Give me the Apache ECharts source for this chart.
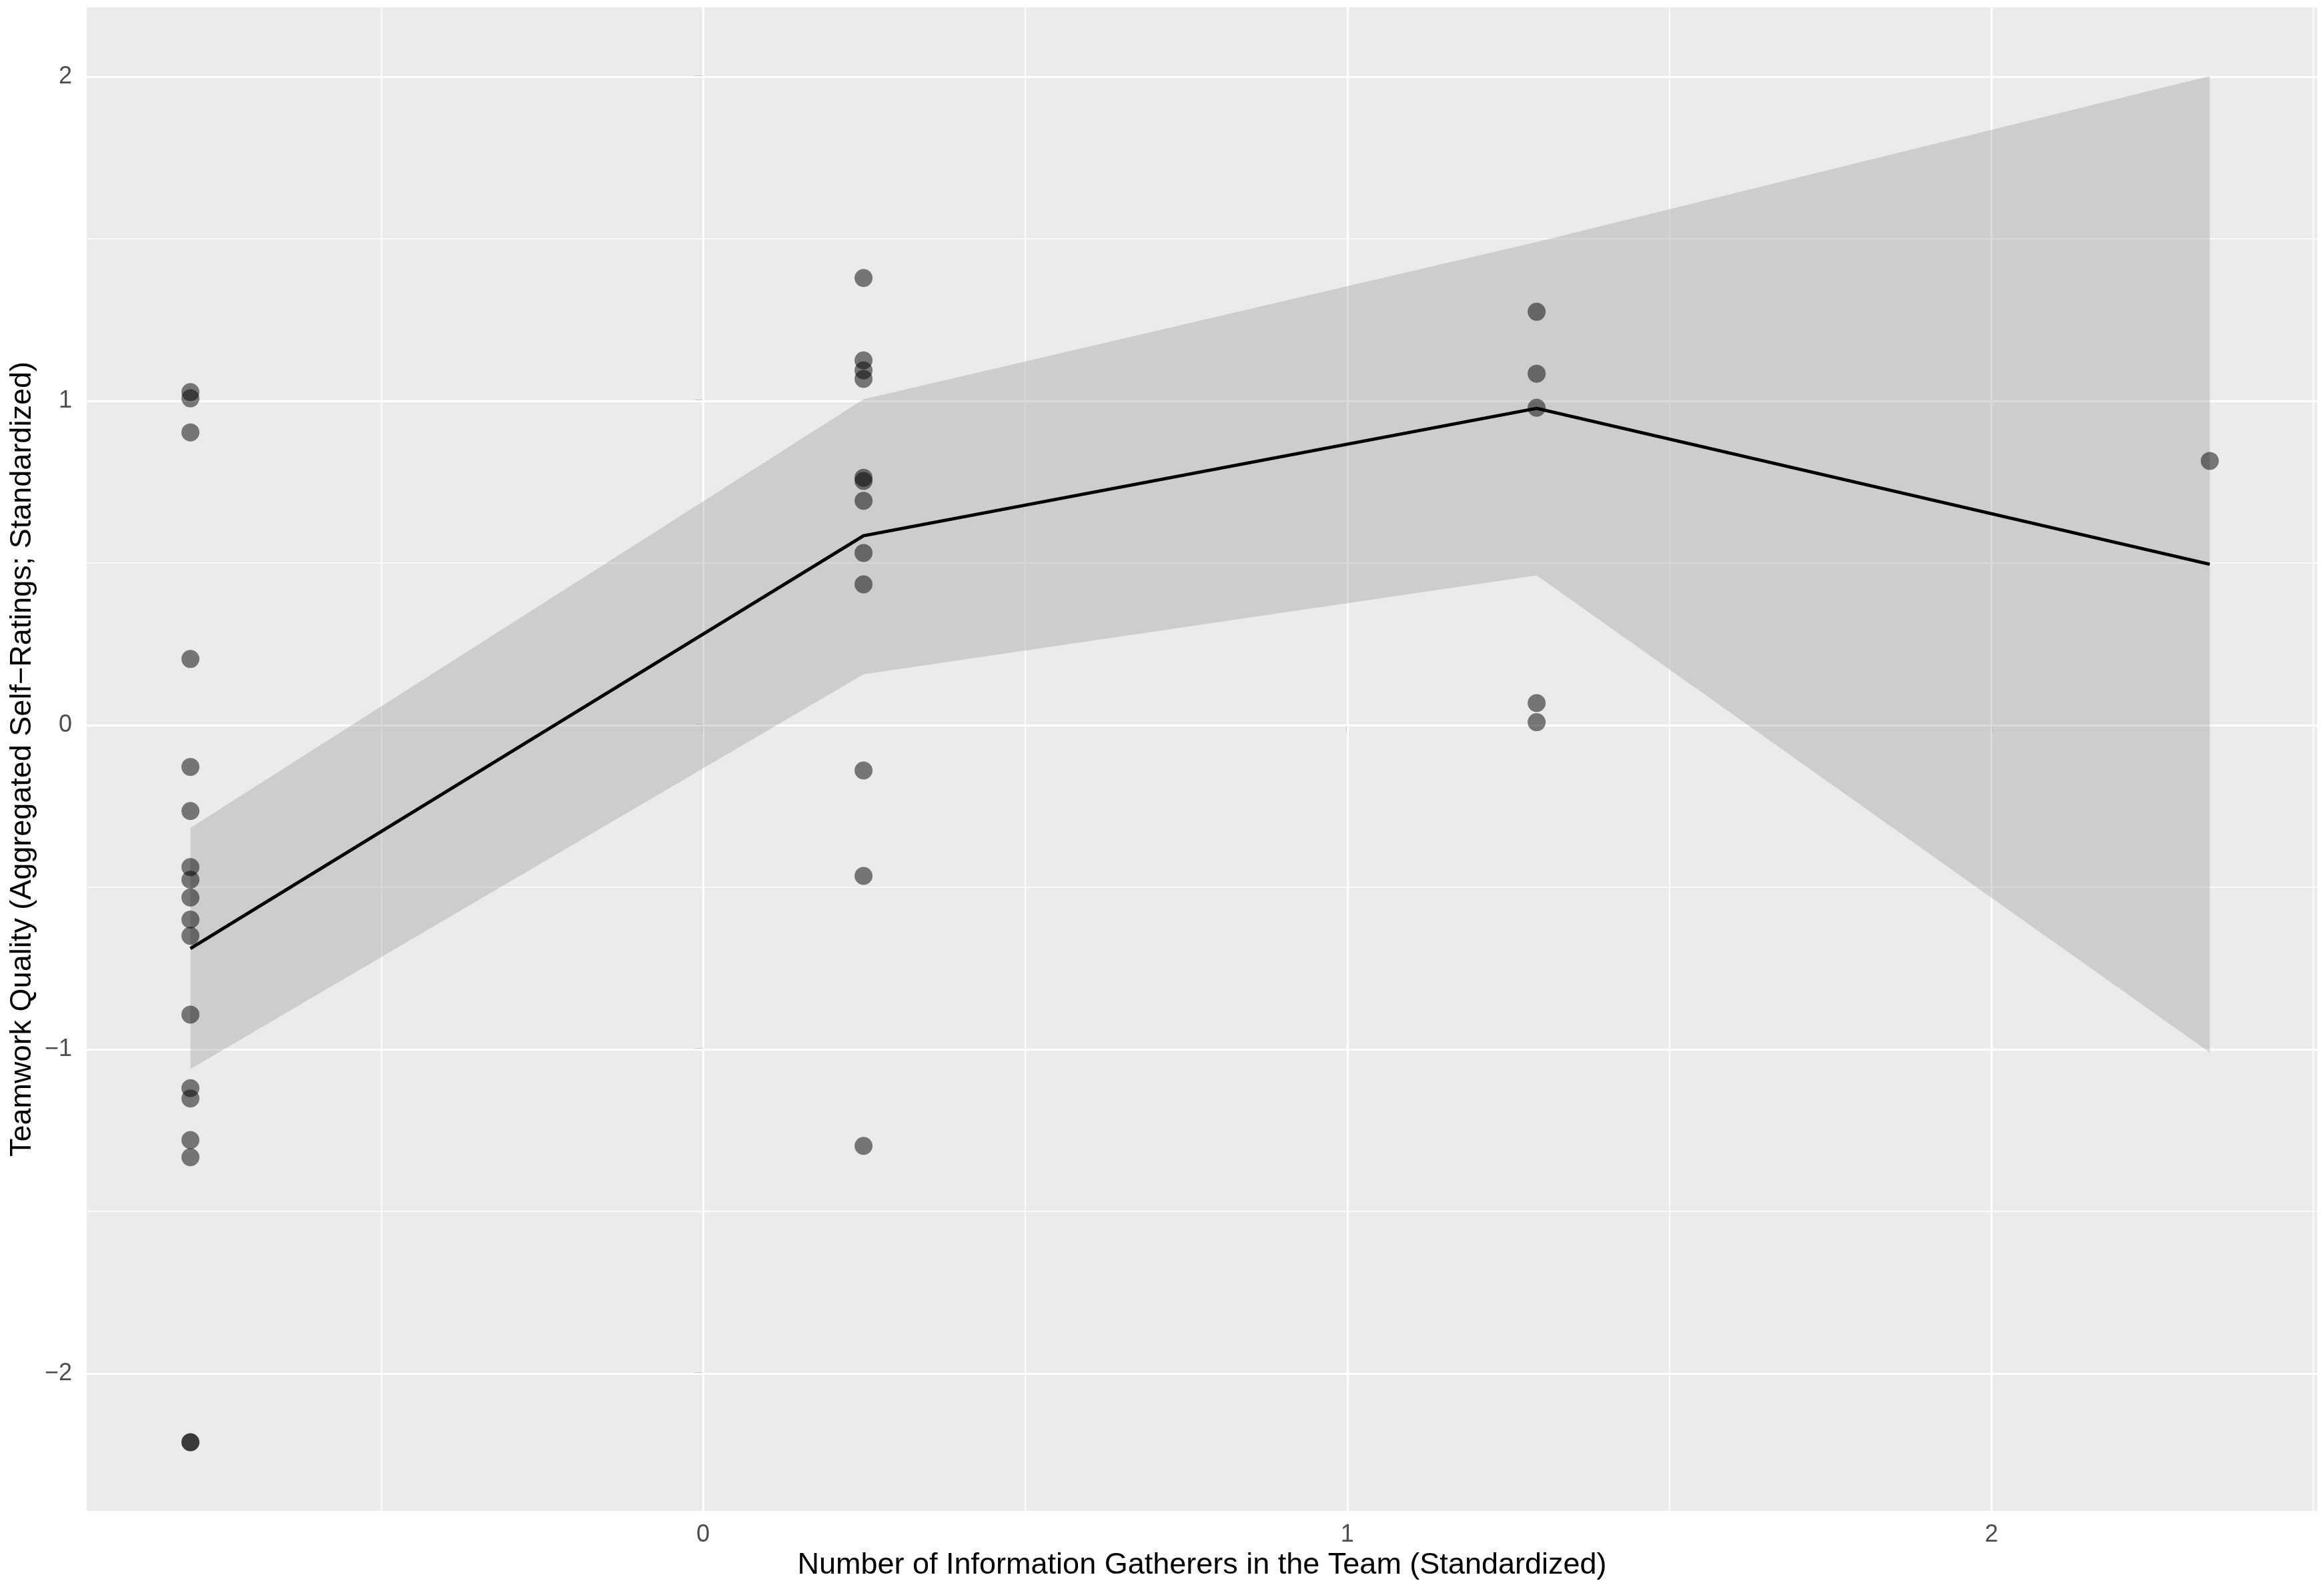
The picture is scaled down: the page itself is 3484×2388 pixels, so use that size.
<!DOCTYPE html>
<html>
<head>
<meta charset="utf-8">
<script src="https://cdn.jsdelivr.net/npm/echarts@6/dist/echarts.min.js"></script>
<style>
  html, body { margin: 0; padding: 0; background: #ffffff; }
  #chart { width: 3484px; height: 2388px; }
</style>
</head>
<body>
<div id="chart"></div>
<script>
(function() {
  // group positions on x (standardized number of information gatherers)
  var groupX = [-0.796, 0.249, 1.294, 2.339];

  // teamwork quality per group
  var group1Y = [1.027, 1.008, 0.903, 0.204, -0.129, -0.265, -0.438, -0.477, -0.532, -0.600, -0.650, -0.893, -1.120, -1.152, -1.280, -1.333, -2.212, -2.212];
  var group2Y = [1.379, 1.125, 1.094, 1.068, 0.763, 0.753, 0.692, 0.531, 0.434, -0.140, -0.465, -1.298];
  var group3Y = [1.275, 1.084, 0.979, 0.068, 0.009];
  var group4Y = [0.815];

  // fitted line and its confidence band
  var fitY = [-0.689, 0.584, 0.977, 0.496];
  var bandLower = [-1.061, 0.157, 0.462, -1.010];
  var bandUpper = [-0.317, 1.005, 1.490, 2.002];

  // axis ticks
  var xTicks = [0, 1, 2];
  var xMinor = [-0.5, 0.5, 1.5, 2.5];
  var yTicks = [-2, -1, 0, 1, 2];
  var yMinor = [-1.5, -0.5, 0.5, 1.5];

  var font = '"Liberation Sans", Helvetica, Arial, sans-serif';
  var minus = function(v) { return String(v).replace('-', '\u2212'); };

  var points = [];
  [group1Y, group2Y, group3Y, group4Y].forEach(function(ys, i) {
    ys.forEach(function(y) { points.push([groupX[i], y]); });
  });

  var gridLines = [];
  xTicks.forEach(function(v) { gridLines.push({ xAxis: v, lineStyle: { width: 3.2 } }); });
  xMinor.forEach(function(v) { gridLines.push({ xAxis: v, lineStyle: { width: 1.6 } }); });
  yTicks.forEach(function(v) { gridLines.push({ yAxis: v, lineStyle: { width: 3.2 } }); });
  yMinor.forEach(function(v) { gridLines.push({ yAxis: v, lineStyle: { width: 1.6 } }); });

  var chart = echarts.init(document.getElementById('chart'), null, { renderer: 'canvas' });
  chart.setOption({
    animation: false,
    backgroundColor: '#ffffff',
    grid: {
      left: 130, right: 10, top: 11, bottom: 123,
      show: true, backgroundColor: '#EBEBEB', borderWidth: 0
    },
    xAxis: {
      type: 'value',
      min: -0.957,
      max: 2.506,
      name: 'Number of Information Gatherers in the Team (Standardized)',
      nameLocation: 'middle',
      nameGap: 58,
      nameTextStyle: { color: '#000000', fontSize: 45, fontFamily: font },
      axisLine: { show: false },
      axisTick: { show: true, length: 12, customValues: xTicks, lineStyle: { color: '#333333', width: 2.4 } },
      axisLabel: { customValues: xTicks, color: '#4D4D4D', fontSize: 36, fontFamily: font, margin: 18, formatter: minus },
      splitLine: { show: false }
    },
    yAxis: {
      type: 'value',
      min: -2.424,
      max: 2.214,
      name: 'Teamwork Quality (Aggregated Self\u2212Ratings; Standardized)',
      nameLocation: 'middle',
      nameGap: 74,
      nameTextStyle: { color: '#000000', fontSize: 45, fontFamily: font },
      axisLine: { show: false },
      axisTick: { show: true, length: 12, customValues: yTicks, lineStyle: { color: '#333333', width: 2.4 } },
      axisLabel: { customValues: yTicks, color: '#4D4D4D', fontSize: 36, fontFamily: font, margin: 22, formatter: minus },
      splitLine: { show: false }
    },
    series: [
      {
        type: 'line',
        data: [],
        z: 1,
        silent: true,
        markLine: {
          z: 1,
          silent: true,
          symbol: 'none',
          label: { show: false },
          lineStyle: { color: '#ffffff', type: 'solid' },
          data: gridLines
        }
      },
      {
        type: 'custom',
        z: 2,
        silent: true,
        data: groupX.map(function(x, i) { return [x, bandLower[i], bandUpper[i]]; }),
        encode: { x: 0, y: [1, 2] },
        renderItem: function(params, api) {
          if (params.dataIndex !== 0) return null;
          var pts = [];
          for (var i = 0; i < groupX.length; i++) pts.push(api.coord([groupX[i], bandUpper[i]]));
          for (var j = groupX.length - 1; j >= 0; j--) pts.push(api.coord([groupX[j], bandLower[j]]));
          return { type: 'polygon', shape: { points: pts }, style: { fill: 'rgba(153,153,153,0.36)' } };
        }
      },
      {
        type: 'scatter',
        z: 3,
        symbolSize: 27,
        data: points,
        itemStyle: { color: '#000000', opacity: 0.5 }
      },
      {
        type: 'line',
        z: 4,
        symbol: 'none',
        data: groupX.map(function(x, i) { return [x, fitY[i]]; }),
        lineStyle: { color: '#000000', width: 5 }
      }
    ]
  });
  window.addEventListener('resize', function() { chart.resize(); });
})();
</script>
</body>
</html>
